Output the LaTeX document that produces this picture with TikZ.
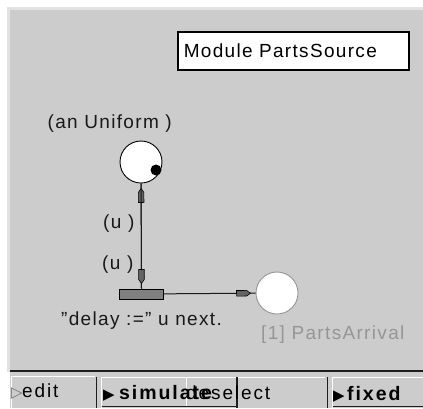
\documentclass[tikz,border=0pt]{standalone}
\usepackage{fontspec}
\setmainfont{Liberation Sans}[LetterSpace=7]
\newfontfamily\uifont{Liberation Sans}[LetterSpace=10]
\newfontfamily\symfont{DejaVu Sans}
\usetikzlibrary{arrows.meta,decorations.markings}
\definecolor{canvas}{RGB}{204,204,204}
\definecolor{rim}{RGB}{226,226,226}
\definecolor{tipgray}{RGB}{100,100,100}
\definecolor{transgray}{RGB}{128,128,128}
\definecolor{fadegray}{RGB}{150,150,150}
\definecolor{darkline}{RGB}{30,30,30}
\begin{document}
\begin{tikzpicture}[x=1pt,y=-1pt,
  lbl/.style={font=\fontsize{19}{22}\selectfont,inner sep=0pt,text=black!90},
  uilbl/.style={font=\uifont\fontsize{19}{22}\selectfont,inner sep=0pt,text=black},
  uibold/.style={font=\uifont\bfseries\fontsize{19.5}{22}\selectfont,inner sep=0pt,text=black},
  uisym/.style={font=\symfont\fontsize{15}{17}\selectfont,inner sep=0pt},
  place/.style={circle,draw=black,line width=0.9pt,fill=white,minimum size=42pt,inner sep=0pt},
  token/.style={circle,fill=black,minimum size=11pt,inner sep=0pt},
  trans/.style={rectangle,draw=black,line width=1pt,fill=transgray,minimum width=44pt,minimum height=10pt,inner sep=0pt},
  modbox/.style={rectangle,draw=black,line width=1.5pt,fill=white,minimum height=38pt,text width=219pt,inner xsep=6pt,align=left,font=\fontsize{19}{22}\selectfont},
  arcto/.style={draw=black!90,line width=1pt,postaction={decorate},
    decoration={markings,mark=at position -5pt with {\filldraw[fill=tipgray,draw=black,line width=0.6pt]
      (0pt,0pt) -- (-4pt,2.8pt) -- (-14pt,2.8pt) -- (-14pt,-2.8pt) -- (-4pt,-2.8pt) -- cycle;}}}
]
\useasboundingbox (0,0) rectangle (423,408);
% window background
\fill[white] (0,0) rectangle (423,408);
\fill[rim] (7,7) rectangle (423,372);
\fill[canvas] (10,10) rectangle (423,369.5);
\fill[darkline] (10,369.5) rectangle (423,371.5);
\fill[canvas] (10,371.5) rectangle (423,408);
% buttons
\draw[white,line width=1pt] (11,408) -- (11,376.5) -- (95,376.5);
\draw[darkline,line width=1.5pt] (96.5,377) -- (96.5,408);
\draw[white,line width=1pt] (101.5,408) -- (101.5,377.5) -- (325,377.5);
\draw[darkline,line width=1.2pt] (101.5,406.5) -- (237,406.5);
\draw[white,line width=1pt] (186,378) -- (186,405.5);
\draw[darkline,line width=1.8pt] (237,377) -- (237,408);
\draw[darkline,line width=1.5pt] (327.5,377) -- (327.5,408);
\draw[white,line width=1pt] (332.5,408) -- (332.5,377.5) -- (423,377.5);
\draw[darkline,line width=1.2pt] (332.5,406.5) -- (423,406.5);
\node[uisym,text=black!55,anchor=base west] (editsym) at (11,397) {▷};
\node[uilbl,anchor=base west] (edit) at (22,397) {edit};
\node[uisym,text=black,anchor=base west] (simsym) at (103,399) {▶};
\node[uibold,anchor=base west] (sim) at (119,399) {simulate};
\node[uilbl,anchor=base west] (desel) at (186,399) {deselect};
\node[uisym,text=black,anchor=base west] (fixsym) at (333,400) {▶};
\node[uibold,anchor=base west] (fixed) at (347,400) {fixed};
% module box
\node[modbox,anchor=west] (mod) at (177,51) {Module PartsSource};
% net
\node[place] (p1) at (141,162) {};
\node[token] (tok) at (156,170) {};
\node[trans] (t) at (141.5,294) {};
\node[place,draw=fadegray] (p2) at (277,293) {};
\draw[arcto] (t.north) -- (p1);
\draw[arcto] (p1) -- (t.north);
\draw[arcto] (t) -- (p2);
% labels
\node[lbl,anchor=base east] (dist) at (172,128) {(an Uniform )};
\node[lbl,anchor=base west] (u1) at (103,228) {(u )};
\node[lbl,anchor=base west] (u2) at (102,269) {(u )};
\node[lbl,anchor=base west] (tlab) at (61,325) {"delay :=" u next.};
\node[lbl,anchor=base west,text=fadegray] (plab) at (261,339) {[1] PartsArrival};
\end{tikzpicture}
\end{document}
